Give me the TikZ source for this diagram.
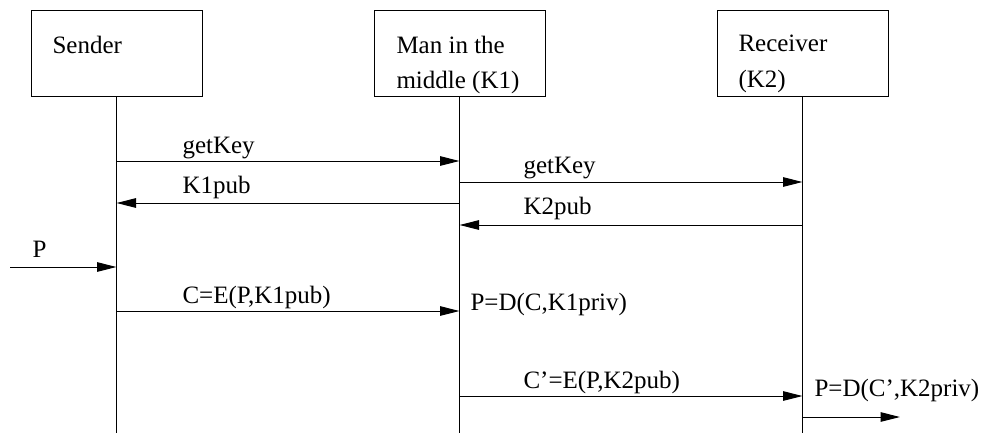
\documentclass[tikz,border=0pt]{standalone}
\usepackage{fontspec}
\setmainfont{Liberation Serif}
\usetikzlibrary{arrows.meta}
\tikzset{
  actor/.style={draw, minimum width=68.4pt, minimum height=34.4pt, inner sep=0pt},
  boxtext/.style={anchor=base west, inner sep=0pt, align=left, font=\fontsize{10}{14}\selectfont},
  msgtext/.style={anchor=base west, inner sep=0pt, font=\fontsize{10}{12}\selectfont},
  msg/.style={-{Triangle[length=7.8pt,width=3.8pt]}},
}
\begin{document}
\begin{tikzpicture}[x=4pt,y=-4pt,line width=0.4pt]
  \useasboundingbox (0,0) rectangle (98.2,43.5);
  % participants
  \node[actor] (snd) at (11.65,5.3) {};
  \node[actor] (mitm) at (45.95,5.3) {};
  \node[actor] (rcv) at (80.25,5.3) {};
  \node[boxtext] (sndtxt) at (5.2,5.3) {Sender};
  \node[boxtext] (mitmtxt) at (39.6,8.8) {Man in the\\middle (K1)};
  \node[boxtext] (rcvtxt) at (73.8,8.7) {Receiver\\(K2)};
  % lifelines
  \coordinate (bot) at (0,43.3);
  \foreach \a in {snd,mitm,rcv}
    \draw (\a.south) -- (\a.south |- bot);
  % message levels
  \coordinate (m1) at (0,16.1);
  \coordinate (m2) at (0,18.2);
  \coordinate (m3) at (0,20.3);
  \coordinate (m4) at (0,22.5);
  \coordinate (m5) at (0,26.7);
  \coordinate (m6) at (0,31.1);
  \coordinate (m7) at (0,39.6);
  \coordinate (m8) at (0,41.7);
  \coordinate (pin) at (1.0,26.7);
  \coordinate (pout) at (90.0,41.7);
  % messages
  \draw[msg] (snd.south |- m1) -- (mitm.south |- m1);
  \draw[msg] (mitm.south |- m2) -- (rcv.south |- m2);
  \draw[msg] (mitm.south |- m3) -- (snd.south |- m3);
  \draw[msg] (rcv.south |- m4) -- (mitm.south |- m4);
  \draw[msg] (pin) -- (snd.south |- m5);
  \draw[msg] (snd.south |- m6) -- (mitm.south |- m6);
  \draw[msg] (mitm.south |- m7) -- (rcv.south |- m7);
  \draw[msg] (rcv.south |- m8) -- (pout);
  % labels
  \node[msgtext] (l1) at (18.2,15.3) {getKey};
  \node[msgtext] (l2) at (52.3,17.3) {getKey};
  \node[msgtext] (l3) at (18.2,19.3) {K1pub};
  \node[msgtext] (l4) at (52.3,21.4) {K2pub};
  \node[msgtext] (l5) at (3.2,25.7) {P};
  \node[msgtext] (l6) at (18.2,30.3) {C=E(P,K1pub)};
  \node[msgtext] (l7) at (47.0,31.0) {P=D(C,K1priv)};
  \node[msgtext] (l8) at (52.3,38.8) {C’=E(P,K2pub)};
  \node[msgtext] (l9) at (81.4,39.6) {P=D(C’,K2priv)};
\end{tikzpicture}
\end{document}
